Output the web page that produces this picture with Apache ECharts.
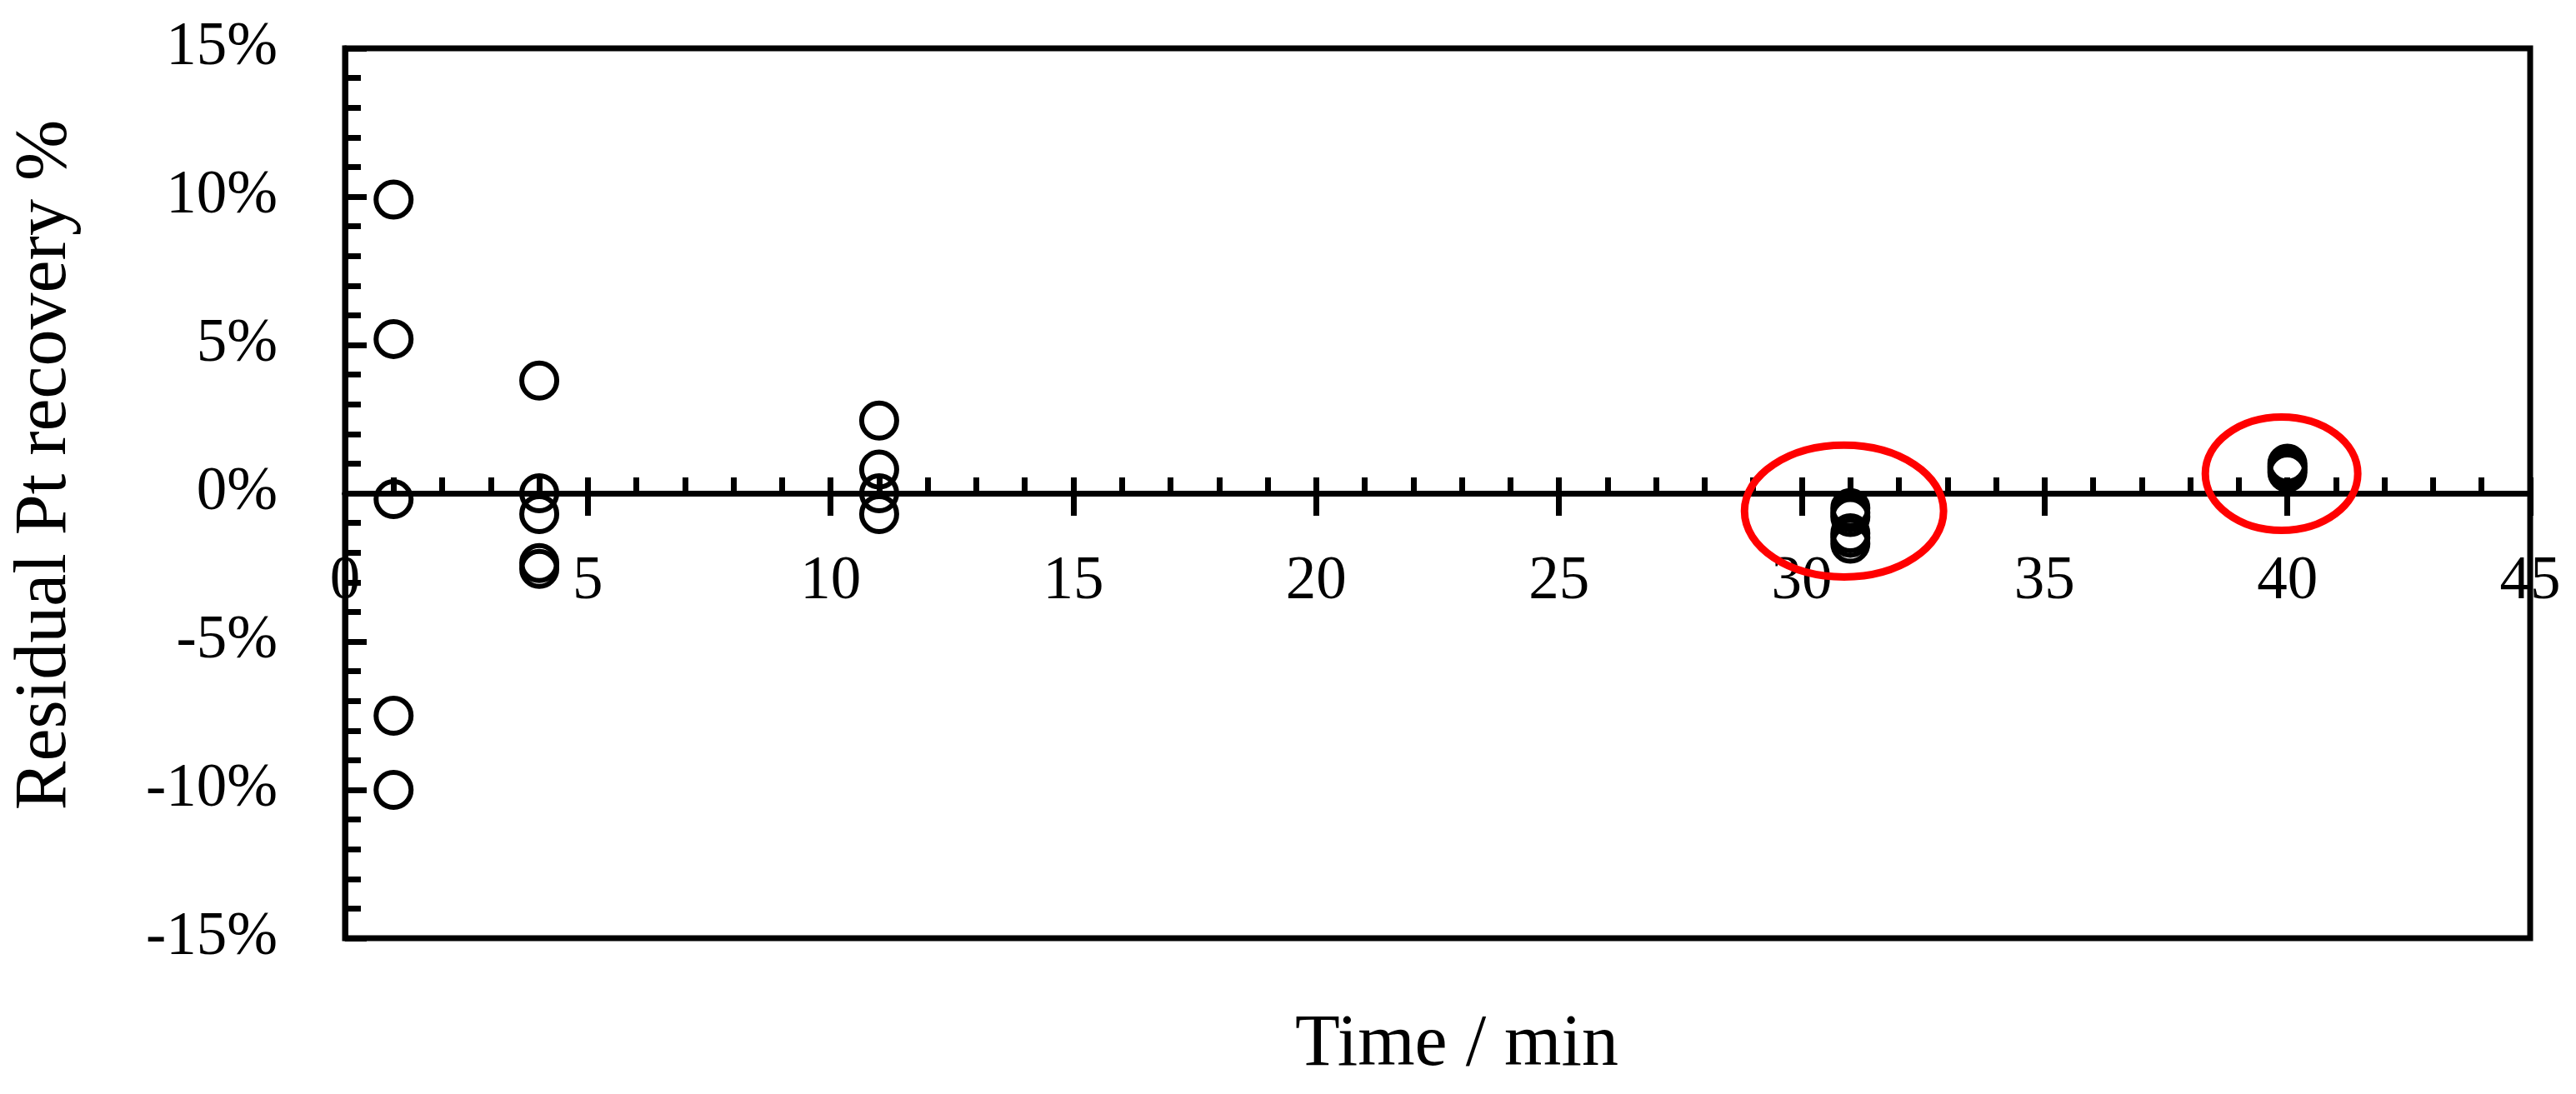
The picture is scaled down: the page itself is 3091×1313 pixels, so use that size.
<!DOCTYPE html>
<html>
<head>
<meta charset="utf-8">
<script src="https://cdn.jsdelivr.net/npm/echarts@6/dist/echarts.min.js"></script>
<style>
html,body{margin:0;padding:0;background:#fff;}
#chart{width:3091px;height:1313px;}
</style>
</head>
<body>
<div id="chart"></div>
<script>
// ---- data ----
const timeMin = [1, 1, 1, 1, 1,
                 4, 4, 4, 4, 4,
                 11, 11, 11, 11,
                 31, 31, 31, 31, 31, 31,
                 40, 40, 40, 40];
const residualPct = [9.9, 5.2, -0.2, -7.5, -10.0,
                     3.8, 0.0, -0.7, -2.35, -2.55,
                     2.45, 0.8, 0.0, -0.7,
                     -0.5, -0.65, -0.8, -1.35, -1.5, -1.7,
                     1.0, 0.9, 0.8, 0.7];
// annotation ellipses: centre (time, %) and radii (time, %)
const ringCentreX = [30.87, 39.88];
const ringCentreY = [-0.6, 0.66];
const ringRadiusX = [2.05, 1.57];
const ringRadiusY = [2.22, 1.91];
// axis ranges
const xRange = [0, 45, 5];
const yRange = [-15, 15, 5];
const xTitle = 'Time / min';
const yTitle = 'Residual Pt recovery %';

const FONT = "'Liberation Serif', 'Times New Roman', serif";
const points = timeMin.map((t, i) => [t, residualPct[i]]);
const rings = ringCentreX.map((cx, i) => [cx, ringCentreY[i], ringRadiusX[i], ringRadiusY[i]]);

const W = 3091, H = 1313;
const GRID = {left: 414, right: 55, top: 58, bottom: 187};
const gridH = H - GRID.top - GRID.bottom;
// the x axis crosses at y = 0: shift it up from the grid bottom by the share of the y range below zero
const xAxisOffset = -gridH * (0 - yRange[0]) / (yRange[1] - yRange[0]);

const chart = echarts.init(document.getElementById('chart'), null, {renderer: 'canvas'});
chart.setOption({
  animation: false,
  backgroundColor: '#ffffff',
  grid: Object.assign({show: true, containLabel: false, outerBoundsMode: 'none',
         borderColor: '#000', borderWidth: 7, backgroundColor: 'transparent'}, GRID),
  xAxis: [{
    type: 'value', min: xRange[0], max: xRange[1], interval: xRange[2], position: 'bottom',
    offset: xAxisOffset,
    axisLine: {show: true, onZero: false, lineStyle: {color: '#000', width: 7}},
    axisTick: {show: true, inside: true, length: 19, lineStyle: {color: '#000', width: 7}},
    minorTick: {show: true, splitNumber: 5, length: 19, lineStyle: {color: '#000', width: 7}},
    splitLine: {show: false},
    axisLabel: {margin: 70, fontSize: 73, fontFamily: FONT, color: '#000'},
    name: xTitle, nameLocation: 'middle', nameGap: 619,
    nameTextStyle: {fontSize: 88, fontFamily: FONT, color: '#000', padding: [0, 0, 0, 46]}
  }, {
    type: 'value', min: xRange[0], max: xRange[1], interval: xRange[2], position: 'bottom',
    offset: xAxisOffset,
    axisLine: {show: true, onZero: false, lineStyle: {color: '#000', width: 7}},
    axisTick: {show: true, inside: false, length: 27, lineStyle: {color: '#000', width: 7}},
    minorTick: {show: false},
    splitLine: {show: false},
    axisLabel: {show: false}
  }],
  yAxis: {
    type: 'value', min: yRange[0], max: yRange[1], interval: yRange[2],
    axisLine: {show: true, onZero: false, lineStyle: {color: '#000', width: 7}},
    axisTick: {show: true, inside: true, length: 26, lineStyle: {color: '#000', width: 7}},
    minorTick: {show: true, splitNumber: 5, length: 19, lineStyle: {color: '#000', width: 7}},
    splitLine: {show: false},
    axisLabel: {margin: 81, fontSize: 73, fontFamily: FONT, color: '#000', formatter: '{value}%'},
    name: yTitle, nameLocation: 'middle', nameGap: 315,
    nameTextStyle: {fontSize: 88, fontFamily: FONT, color: '#000', padding: [0, 0, 0, 68]}
  },
  series: [{
    type: 'scatter', xAxisIndex: 0, yAxisIndex: 0,
    data: points, symbol: 'circle', symbolSize: 42,
    itemStyle: {color: 'rgba(0,0,0,0)', borderColor: '#000', borderWidth: 6, opacity: 1},
    emphasis: {disabled: true}, z: 3
  }, {
    type: 'custom', xAxisIndex: 0, yAxisIndex: 0,
    data: rings, encode: {x: 0, y: 1}, clip: false, z: 5,
    renderItem: function (params, api) {
      const c = api.coord([api.value(0), api.value(1)]);
      const s = api.size([api.value(2), api.value(3)]);
      return {type: 'ellipse', shape: {cx: c[0], cy: c[1], rx: s[0], ry: s[1]},
              style: {fill: 'transparent', stroke: '#ff0000', lineWidth: 9}};
    }
  }]
});
</script>
</body>
</html>
